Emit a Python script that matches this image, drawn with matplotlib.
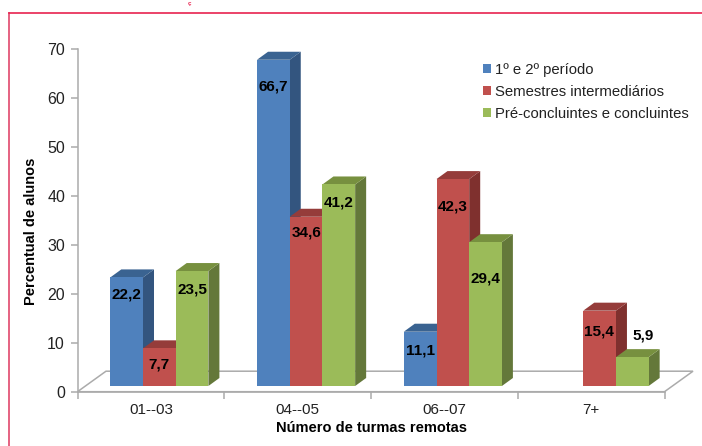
import matplotlib
matplotlib.use("Agg")
import matplotlib.pyplot as plt
from matplotlib.patches import Polygon, Rectangle
from matplotlib.lines import Line2D

categories = ["01--03", "04--05", "06--07", "7+"]
series_names = ["1º e 2º período", "Semestres intermediários", "Pré-concluintes e concluintes"]
periodo_1_2 = [22.2, 66.7, 11.1, None]
intermediarios = [7.7, 34.6, 42.3, 15.4]
concluintes = [23.5, 41.2, 29.4, 5.9]
series_values = [periodo_1_2, intermediarios, concluintes]
yticks = [0, 10, 20, 30, 40, 50, 60, 70]
labels_1 = ["22,2", "66,7", "11,1", None]
labels_2 = ["7,7", "34,6", "42,3", "15,4"]
labels_3 = ["23,5", "41,2", "29,4", "5,9"]
series_labels = [labels_1, labels_2, labels_3]

W, H = 702, 446
plt.rcParams["font.family"] = ["Liberation Sans", "DejaVu Sans"]
fig = plt.figure(figsize=(W / 100, H / 100), dpi=100, facecolor="white")

# Plot axes: category slots 0..4, value 0..70
L, R, T, B = 77.5, 664.5, 49.3, 391.7
ax = fig.add_axes([L / W, 1 - B / H, (R - L) / W, (B - T) / H])
ax.set_xlim(0, 4)
ax.set_ylim(0, 70)
ax.patch.set_alpha(0)

px_x = 4 / (R - L)
px_y = 70 / (B - T)
dx, dy = 11 * px_x, 8 * px_y          # 3-D depth
floor_dx, floor_dy = 28.5 * px_x, 20.5 * px_y
base = 5.7 * px_y                      # bars stand above the front edge
bar_w = 32.7 * px_x
first = 32.8 * px_x                    # left edge of a group within its slot

front = ["#4F81BD", "#C0504D", "#9BBB59"]
top = ["#3A6391", "#953C3A", "#77903F"]
side = ["#33557F", "#7F302E", "#64783A"]
grey = "#ABABAB"

# label placement below the bar top, in pixels (label text -> drop, x shift)
label_place = {"22,2": (17, 0), "7,7": (16, 0), "23,5": (18, 0), "66,7": (27, 0),
               "34,6": (16, 0), "41,2": (18, 0), "11,1": (19, 0), "42,3": (27, 0),
               "29,4": (36, 0), "15,4": (21, -1), "5,9": (-22, 11)}

# floor
ax.add_patch(Polygon([(0, 0), (floor_dx, floor_dy), (4 + floor_dx, floor_dy), (4, 0)],
                     closed=True, fc="white", ec=grey, lw=1.1, clip_on=False, zorder=1))

# left-to-right: each bar's front and top overlap the side of its left neighbour
for c in range(len(categories)):
    for s in range(3):
        v = series_values[s][c]
        if v is None:
            continue
        x0 = c + first + s * bar_w
        x1 = x0 + bar_w
        y0, y1 = base, base + v
        zo = 3 + c + s * 0.1
        ax.add_patch(Polygon([(x1, y0), (x1 + dx, y0 + dy), (x1 + dx, y1 + dy), (x1, y1)],
                             closed=True, fc=side[s], ec="none", clip_on=False, zorder=zo))
        ax.add_patch(Polygon([(x0, y1), (x0 + dx, y1 + dy), (x1 + dx, y1 + dy), (x1, y1)],
                             closed=True, fc=top[s], ec="none", clip_on=False, zorder=zo))
        ax.bar(x0, v, bottom=base, width=bar_w, align="edge", color=front[s], lw=0,
               clip_on=False, zorder=zo + 0.05)
        lab = series_labels[s][c]
        if lab is not None:
            drop, shift = label_place[lab]
            ax.text((x0 + x1) / 2 + shift * px_x, y1 - drop * px_y, lab, ha="center", va="center",
                    fontsize=11, fontweight="bold", color="black", zorder=30)

# axes styling
for sp in ("top", "right"):
    ax.spines[sp].set_visible(False)
for sp in ("left", "bottom"):
    ax.spines[sp].set_color(grey)
    ax.spines[sp].set_linewidth(1.1)
    ax.spines[sp].set_zorder(2)
ax.set_yticks(yticks)
ax.set_xticks(range(5))
ax.set_xticklabels([])
ax.tick_params(axis="y", length=5, width=1.1, color=grey, labelsize=11.5, labelcolor="#222222", pad=4)
ax.tick_params(axis="x", length=5, width=1.1, color=grey)
for i, name in enumerate(categories):
    ax.text(i + 0.5, -18 * px_y, name, ha="center", va="center", fontsize=11, color="#222222")

ax.set_ylabel("Percentual de alunos", fontsize=10.5, fontweight="bold", labelpad=0, va="center")
ax.yaxis.set_label_coords((31.5 - L) / (R - L), (B - 231) / (B - T))
ax.set_xlabel("Número de turmas remotas", fontsize=10.5, fontweight="bold", va="center")
ax.xaxis.set_label_coords((371 - L) / (R - L), -(428.5 - B) / (B - T))

# legend
handles = [Rectangle((0, 0), 1, 1, fc=c, ec="none") for c in front]
leg = fig.legend(handles, series_names, loc="upper left", bbox_to_anchor=(483 / W, 1 - 63 / H),
                 frameon=False, fontsize=10.7, handlelength=0.54, handleheight=0.5, handletextpad=0.27,
                 labelspacing=0.53, borderpad=0, borderaxespad=0, labelcolor="#222222")

# surrounding pink frame of the source page, and the small leftover text above it
fig.add_artist(Line2D([9 / W, 9 / W], [0, 1 - 12.5 / H], color="#E0486C", lw=1.2))
fig.add_artist(Line2D([9 / W, 1], [1 - 12.5 / H, 1 - 12.5 / H], color="#E8234F", lw=1.2))
fig.text(189.5 / W, 1 - 0.5 / H, "ç", ha="center", va="top", fontsize=4.5, fontweight="bold", color="#E8234F")

fig.savefig("out.png", dpi=100, facecolor="white")
